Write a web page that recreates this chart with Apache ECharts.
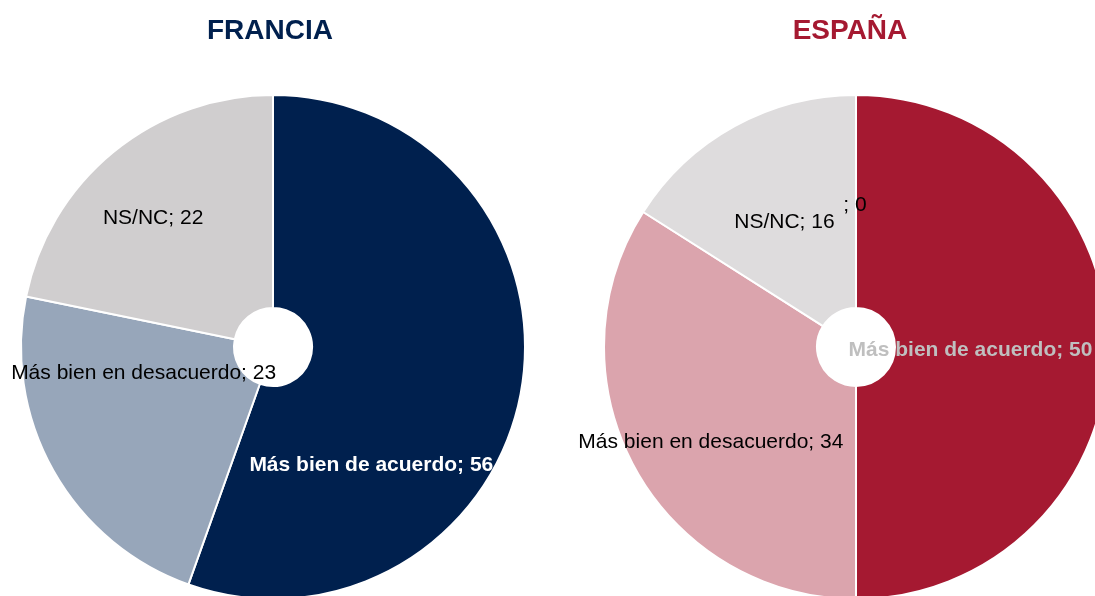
<!DOCTYPE html>
<html>
<head>
<meta charset="utf-8">
<script src="https://cdn.jsdelivr.net/npm/echarts@6/dist/echarts.min.js"></script>
<style>
html,body{margin:0;padding:0;background:#fff;}
#chart{width:1095px;height:596px;}
</style>
</head>
<body>
<div id="chart"></div>
<script>
// Data
var franciaCategories = ['Más bien de acuerdo', 'Más bien en desacuerdo', 'NS/NC'];
var franciaValues = [56, 23, 22];
var espanaCategories = ['Más bien de acuerdo', 'Más bien en desacuerdo', 'NS/NC', ''];
var espanaValues = [50, 34, 16, 0];
var titles = ['FRANCIA', 'ESPAÑA'];

// Styling (not data)
var franciaColors = ['#00204E', '#97A6BA', '#D0CECF'];
var espanaColors = ['#A51931', '#DBA4AD', '#DEDCDD', '#DEDCDD'];
var franciaLabelShift = [[-48, 93], [0, -47], [-26, -14]];
var espanaLabelShift = [[-34, 3], [-15, 24], [0, 5], [-1, 7]];
var franciaLabelStyle = [
  {color: '#FFFFFF', fontWeight: 'bold'},
  {color: '#000000', fontWeight: 'normal'},
  {color: '#000000', fontWeight: 'normal'}
];
var espanaLabelStyle = [
  {color: '#BFBFBF', fontWeight: 'bold'},
  {color: '#000000', fontWeight: 'normal'},
  {color: '#000000', fontWeight: 'normal'},
  {color: '#000000', fontWeight: 'normal'}
];

function buildData(cats, vals, colors, styles) {
  return cats.map(function (c, i) {
    return {
      name: c,
      value: vals[i],
      itemStyle: {color: colors[i]},
      label: {color: styles[i].color, fontWeight: styles[i].fontWeight}
    };
  });
}

function makeSeries(cats, vals, colors, styles, shifts, center) {
  return {
    type: 'pie',
    center: center,
    radius: [39, 252],
    startAngle: 90,
    clockwise: true,
    avoidLabelOverlap: false,
    silent: true,
    animation: false,
    itemStyle: {borderColor: '#FFFFFF', borderWidth: 2},
    label: {
      show: true,
      position: 'inside',
      formatter: '{b}; {c}',
      fontFamily: 'Liberation Sans, Arial, sans-serif',
      fontSize: 21
    },
    labelLine: {show: false},
    labelLayout: function (p) {
      var s = shifts[p.dataIndex];
      return {dx: s[0], dy: s[1]};
    },
    data: buildData(cats, vals, colors, styles)
  };
}

var chart = echarts.init(document.getElementById('chart'), null, {renderer: 'canvas'});
chart.setOption({
  backgroundColor: '#FFFFFF',
  animation: false,
  title: [
    {text: titles[0], left: 265, top: 26, textAlign: 'center', textVerticalAlign: 'middle',
     textStyle: {color: '#00204E', fontSize: 28, fontWeight: 'bold', fontFamily: 'Liberation Sans, Arial, sans-serif'}},
    {text: titles[1], left: 845, top: 26, textAlign: 'center', textVerticalAlign: 'middle',
     textStyle: {color: '#A51931', fontSize: 28, fontWeight: 'bold', fontFamily: 'Liberation Sans, Arial, sans-serif'}}
  ],
  series: [
    makeSeries(franciaCategories, franciaValues, franciaColors, franciaLabelStyle, franciaLabelShift, [273, 347]),
    makeSeries(espanaCategories, espanaValues, espanaColors, espanaLabelStyle, espanaLabelShift, [856, 347])
  ]
});
</script>
</body>
</html>
